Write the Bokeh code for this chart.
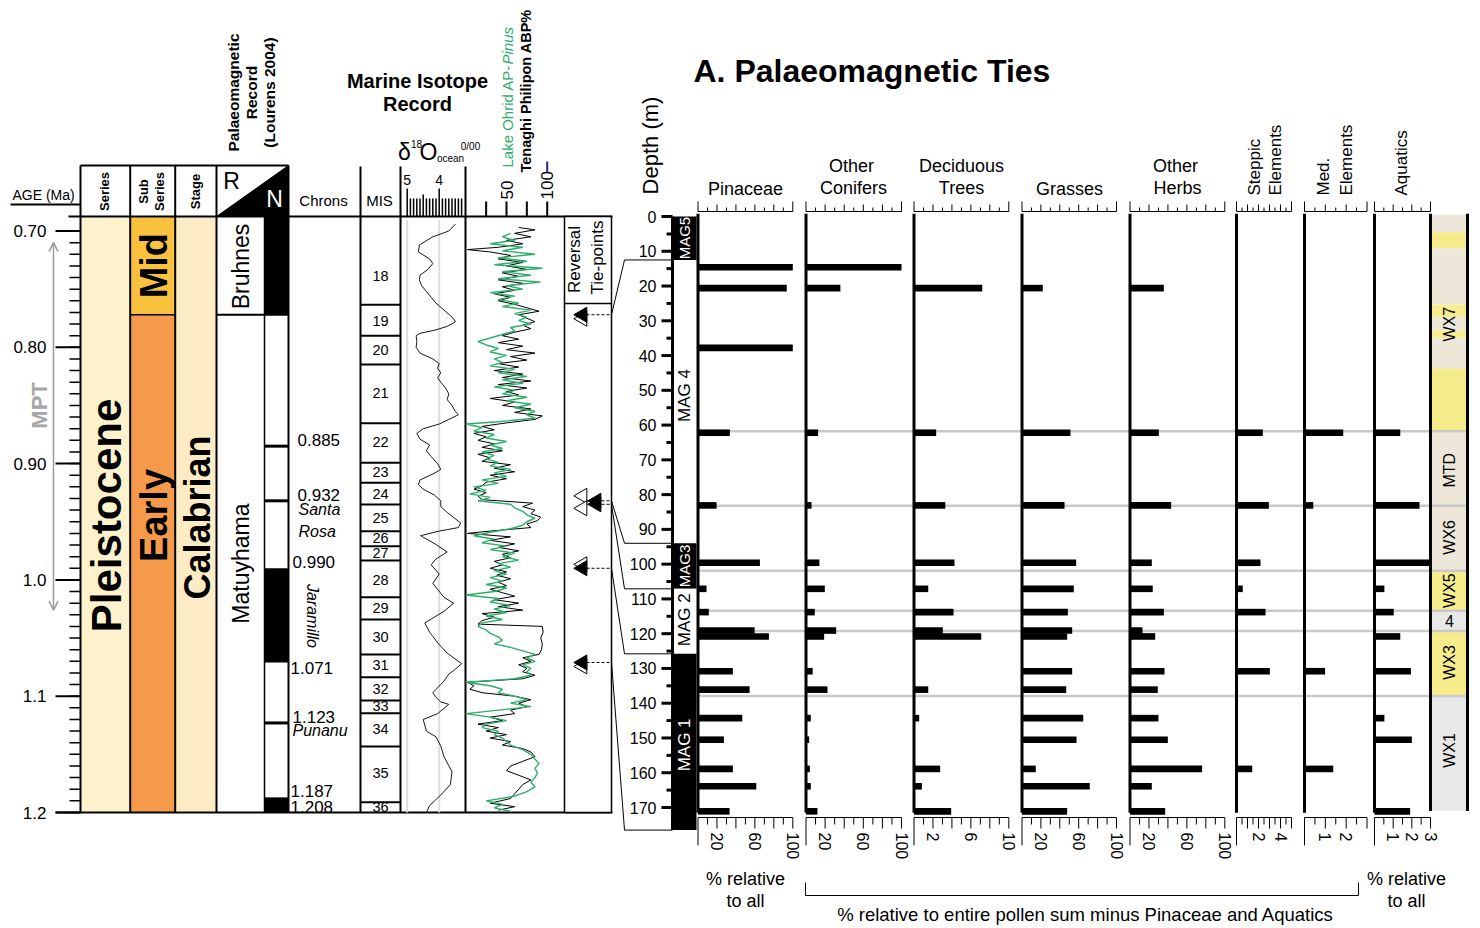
import math
from bokeh.plotting import figure
from bokeh.models import Range1d, Arrow, OpenHead
from bokeh.core.properties import value
from bokeh.embed import file_html
from bokeh.resources import INLINE

W, H = 1480, 928
FONT = "Liberation Sans"

# ------------------------------------------------------------------ DATA
# age axis (Ma)
age_major = [0.70, 0.80, 0.90, 1.0, 1.1, 1.2]
age_major_labels = ["0.70", "0.80", "0.90", "1.0", "1.1", "1.2"]
age_minor = [round(0.70 + 0.01 * i, 2) for i in range(51)]
age_panel_top = 0.6875
age_panel_bottom = 1.2
mpt_top, mpt_bottom = 0.71, 1.026

series_name = "Pleistocene"
subseries_names = ["Mid", "Early"]
subseries_top = [0.6875, 0.772]
subseries_bottom = [0.772, 1.2]
stage_name = "Calabrian"

polarity_names = ["Bruhnes", "Matuyhama"]
polarity_top = [0.6875, 0.772]
polarity_bottom = [0.772, 1.2]
normal_top = [0.6875, 0.990, 1.187]
normal_bottom = [0.772, 1.071, 1.2]
subchron_lines = [0.885, 0.932, 1.123]

chron_labels = ["0.885", "0.932", "0.990", "1.071", "1.123", "1.187", "1.208"]
chron_label_ages = [0.885, 0.932, 0.990, 1.071, 1.123, 1.187, 1.2]
subchron_names = ["Santa", "Rosa", "Punanu"]
subchron_name_ages = [0.9395, 0.958, 1.1295]
jaramillo_age = 1.031

mis_labels = [str(n) for n in range(18, 37)]
mis_bounds = [0.6875, 0.7635, 0.790, 0.8148, 0.8653, 0.8993, 0.9165, 0.9352, 0.9581,
              0.971, 0.9833, 1.0149, 1.034, 1.0641, 1.0837, 1.1037, 1.1146, 1.1432,
              1.1911, 1.2]
mis_label_ages = [0.7383, 0.777, 0.8027, 0.8397, 0.8818, 0.9076, 0.9265, 0.9472, 0.9644,
                  0.9773, 1.0005, 1.0245, 1.0494, 1.0736, 1.0934, 1.1088, 1.1286, 1.1664,
                  1.1957]

# benthic d18O stack (per mil)
iso_age = [0.694, 0.700, 0.705, 0.712, 0.718, 0.724, 0.728, 0.733, 0.738, 0.742, 0.747,
           0.752, 0.757, 0.762, 0.768, 0.774, 0.778, 0.782, 0.785, 0.788, 0.790, 0.795,
           0.800, 0.805, 0.810, 0.814, 0.818, 0.822, 0.826, 0.830, 0.835, 0.840, 0.845,
           0.850, 0.855, 0.858, 0.862, 0.866, 0.870, 0.874, 0.879, 0.884, 0.889, 0.894,
           0.900, 0.905, 0.909, 0.914, 0.918, 0.922, 0.927, 0.932, 0.937, 0.942, 0.951,
           0.955, 0.958, 0.962, 0.969, 0.976, 0.982, 0.987, 0.995, 1.003, 1.015, 1.020,
           1.027, 1.037, 1.045, 1.055, 1.063, 1.072, 1.078, 1.081, 1.087, 1.097, 1.101,
           1.105, 1.107, 1.115, 1.120, 1.130, 1.135, 1.143, 1.152, 1.165, 1.176, 1.185,
           1.194, 1.200]
iso_d18o = [3.49, 3.70, 4.20, 4.62, 4.65, 4.30, 4.20, 4.35, 4.60, 4.62, 4.55,
            4.40, 4.25, 4.10, 3.85, 3.60, 3.49, 3.75, 4.10, 4.60, 4.72, 4.70,
            4.72, 4.60, 4.20, 4.00, 4.05, 3.95, 4.05, 3.95, 3.80, 3.70, 3.75,
            3.60, 3.50, 3.40, 3.70, 4.00, 4.50, 4.70, 4.60, 4.30, 4.40, 4.25,
            4.05, 3.95, 4.20, 4.60, 4.65, 4.50, 4.15, 3.95, 3.95, 3.75, 3.33,
            3.40, 4.00, 4.58, 4.13, 3.75, 4.10, 4.25, 4.00, 4.20, 3.85, 3.55,
            3.85, 4.45, 4.30, 4.02, 3.75, 3.30, 3.55, 3.70, 3.85, 4.20, 4.10,
            3.95, 3.70, 4.05, 4.50, 4.40, 4.10, 3.95, 3.85, 3.60, 3.65, 3.95,
            4.30, 4.40]

# Tenaghi Philippon ABP %
tp_age = [0.697, 0.699, 0.702, 0.705, 0.708, 0.711, 0.714, 0.716, 0.718, 0.721, 0.724,
          0.727, 0.730, 0.733, 0.736, 0.739, 0.742, 0.745, 0.748, 0.751, 0.754, 0.757,
          0.760, 0.763, 0.766, 0.769, 0.772, 0.775, 0.778, 0.781, 0.784, 0.787, 0.790,
          0.793, 0.796, 0.799, 0.802, 0.805, 0.808, 0.811, 0.814, 0.817, 0.820, 0.823,
          0.826, 0.829, 0.832, 0.835, 0.838, 0.841, 0.844, 0.847, 0.850, 0.853, 0.856,
          0.859, 0.862, 0.865, 0.868, 0.871, 0.874, 0.877, 0.880, 0.883, 0.886, 0.889,
          0.892, 0.895, 0.898, 0.901, 0.904, 0.907, 0.910, 0.913, 0.916, 0.919, 0.922,
          0.925, 0.928, 0.931, 0.934, 0.937, 0.940, 0.943, 0.946, 0.949, 0.952, 0.955,
          0.958, 0.960, 0.963, 0.966, 0.969, 0.972, 0.975, 0.978, 0.981, 0.984, 0.987,
          0.990, 0.993, 0.996, 0.999, 1.002, 1.005, 1.008, 1.011, 1.014, 1.017, 1.020,
          1.023, 1.026, 1.029, 1.032, 1.035, 1.038, 1.040, 1.045, 1.050, 1.055, 1.060,
          1.064, 1.067, 1.070, 1.073, 1.076, 1.079, 1.082, 1.085, 1.088, 1.091, 1.094,
          1.097, 1.100, 1.103, 1.106, 1.109, 1.112, 1.115, 1.118, 1.121, 1.124, 1.127,
          1.130, 1.133, 1.136, 1.139, 1.142, 1.145, 1.148, 1.152, 1.156, 1.160, 1.164,
          1.168, 1.172, 1.176, 1.180, 1.184, 1.188, 1.192, 1.195, 1.198]
tp_abp = [65, 85, 60, 80, 50, 70, 40, 2, 30, 55, 40,
          70, 50, 75, 45, 65, 40, 70, 45, 60, 35, 55,
          40, 60, 75, 90, 65, 75, 85, 70, 80, 60, 45,
          65, 40, 70, 50, 85, 55, 75, 40, 65, 35, 70,
          45, 80, 40, 75, 50, 65, 30, 60, 45, 80, 60,
          94, 85, 50, 20, 35, 10, 25, 15, 35, 20, 45,
          15, 30, 20, 55, 35, 60, 30, 50, 25, 20, 10,
          25, 15, 20, 82, 70, 85, 80, 92, 88, 75, 80,
          30, 2, 55, 30, 60, 40, 65, 45, 55, 35, 45,
          30, 50, 38, 55, 40, 50, 30, 45, 60, 35, 65,
          40, 70, 20, 35, 20, 15, 94, 95, 92, 94, 93,
          90, 70, 80, 65, 75, 70, 85, 70, 2, 10, 5,
          20, 60, 80, 65, 75, 55, 60, 30, 45, 15, 40,
          25, 50, 30, 55, 45, 70, 80, 85, 70, 55, 50,
          65, 80, 70, 65, 60, 55, 30, 60, 40]

# Lake Ohrid AP-Pinus %
oh_age = [0.702, 0.705, 0.708, 0.711, 0.714, 0.717, 0.720, 0.723, 0.726, 0.729, 0.732,
          0.735, 0.738, 0.741, 0.744, 0.747, 0.750, 0.753, 0.756, 0.759, 0.762, 0.765,
          0.768, 0.771, 0.774, 0.777, 0.780, 0.783, 0.786, 0.789, 0.792, 0.795, 0.798,
          0.801, 0.804, 0.807, 0.810, 0.813, 0.816, 0.819, 0.822, 0.825, 0.828, 0.831,
          0.834, 0.837, 0.840, 0.843, 0.846, 0.849, 0.852, 0.855, 0.858, 0.861, 0.864,
          0.866, 0.869, 0.872, 0.875, 0.878, 0.881, 0.884, 0.887, 0.890, 0.893, 0.896,
          0.899, 0.902, 0.905, 0.908, 0.911, 0.914, 0.917, 0.920, 0.923, 0.926, 0.929,
          0.932, 0.935, 0.938, 0.941, 0.944, 0.947, 0.950, 0.953, 0.956, 0.959, 0.962,
          0.965, 0.968, 0.971, 0.974, 0.977, 0.980, 0.983, 0.986, 0.989, 0.992, 0.995,
          0.998, 1.001, 1.004, 1.007, 1.010, 1.013, 1.016, 1.019, 1.022, 1.025, 1.028,
          1.031, 1.034, 1.037, 1.040, 1.043, 1.046, 1.049, 1.052, 1.055, 1.058, 1.061,
          1.064, 1.067, 1.070, 1.073, 1.076, 1.079, 1.082, 1.085, 1.088, 1.091, 1.094,
          1.097, 1.100, 1.103, 1.106, 1.109, 1.112, 1.115, 1.118, 1.121, 1.124, 1.127,
          1.130, 1.133, 1.136, 1.139, 1.142, 1.146, 1.150, 1.154, 1.158, 1.162, 1.166,
          1.170, 1.174, 1.178, 1.182, 1.186, 1.190, 1.193, 1.196, 1.199]
oh_ap = [55, 45, 60, 30, 70, 45, 85, 40, 75, 35, 94,
         45, 80, 40, 92, 50, 70, 30, 60, 40, 65, 45,
         80, 60, 75, 65, 80, 55, 60, 45, 30, 15, 25,
         40, 30, 50, 35, 45, 30, 60, 40, 75, 45, 70,
         35, 60, 45, 75, 50, 80, 60, 85, 75, 85, 40,
         0, 20, 10, 35, 25, 50, 30, 45, 20, 35, 25,
         40, 30, 55, 35, 50, 20, 40, 10, 25, 5, 30,
         15, 55, 60, 70, 75, 85, 75, 70, 55, 30, 10,
         35, 20, 50, 30, 60, 45, 65, 40, 55, 35, 50,
         30, 45, 25, 50, 35, 0, 40, 30, 55, 35, 50,
         25, 45, 20, 15, 25, 30, 40, 45, 35, 55, 70,
         85, 75, 85, 70, 80, 75, 80, 60, 0, 30, 45,
         40, 60, 75, 55, 80, 40, 0, 30, 50, 25, 20,
         40, 35, 45, 50, 55, 70, 80, 85, 90, 85, 88,
         85, 80, 85, 75, 60, 25, 45, 35, 55]

# palaeomagnetic tie points (age Ma -> core depth m)
tie_age = [0.772, 0.932, 0.935, 0.990, 1.071]
tie_depth = [12.5, 94.0, 107.1, 125.8, 176.5]

# core magnetostratigraphy (m)
mag_names = ["MAG5", "MAG 4", "MAG3", "MAG 2", "MAG 1"]
mag_top = [0.0, 12.5, 94.0, 107.1, 125.8]
mag_bottom = [12.5, 94.0, 107.1, 125.8, 176.5]
mag_normal = [True, False, True, False, True]
mag_label_depth = [6.2, 51.5, 100.5, 116.0, 152.0]

depth_major = list(range(0, 171, 10))
depth_minor = list(range(5, 171, 10))

# pollen samples (m) and percentages
sample_depth = [14.6, 20.6, 37.8, 62.2, 83.1, 99.6, 107.1, 113.8, 119.1, 120.8,
                130.8, 136.1, 144.3, 150.5, 158.9, 163.9, 171.1]
pinaceae = [100, 93.6, 100, 33.6, 19.6, 65.3, 9.0, 11.4, 59.7, 74.8,
            36.8, 54.4, 46.7, 27.3, 36.8, 61.5, 33.3]
other_conifers = [100, 36, 0, 12.7, 5.8, 14, 19.7, 9.2, 31.6, 19,
                  7, 22.5, 5, 3.3, 4, 5, 12]
deciduous_trees = [0, 7.2, 0, 2.34, 3.3, 4.27, 1.5, 4.17, 3.04, 7.09,
                   0, 1.5, 0.55, 0, 2.76, 0.83, 3.92]
grasses = [0, 22, 0, 51.3, 45, 57.3, 54.8, 48.5, 53.1, 47.8,
           53.1, 46.8, 64.8, 57.7, 14.6, 71.7, 47.8]
other_herbs = [0, 35.7, 0, 30.4, 43.4, 23, 24, 35.7, 13.2, 26.6,
               36.4, 29.3, 30, 39.9, 76.1, 23, 37.1]
steppic = [0, 0, 0, 2.39, 2.94, 2.18, 0.57, 2.64, 0, 0,
           3.03, 0, 0, 0, 1.43, 0, 0]
med_elements = [0, 0, 0, 1.86, 0.42, 0, 0, 0, 0, 0,
                0.99, 0, 0, 0, 1.38, 0, 0]
aquatics = [0, 0, 0, 1.38, 2.41, 2.98, 0.53, 1.03, 0, 1.38,
            1.95, 0, 0.53, 2.0, 0, 0, 1.91]

pct_ticks = [0, 10, 20, 30, 40, 50, 60, 70, 80, 90, 100]
dec_ticks = [0, 1, 2, 3, 4, 5, 6, 7, 8, 9, 10]
step_ticks = [0, 0.5, 1, 1.5, 2, 2.5, 3, 3.5, 4, 4.5, 5]
med_ticks = [0, 0.5, 1, 1.5, 2, 2.5, 3]
aq_ticks = [0, 0.5, 1, 1.5, 2, 2.5, 3]
pct_labels = [20, 60, 100]
dec_labels = [2, 6, 10]
step_labels = [2, 4]
med_labels = [1, 2]
aq_labels = [1, 2, 3]

# pollen zones (m)
zone_top = [-0.6, 4.5, 9.1, 25.3, 29.0, 32.8, 34.9, 43.8, 61.8, 101.9, 113.4, 119.2, 137.9]
zone_bottom = [4.5, 9.1, 25.3, 29.0, 32.8, 34.9, 43.8, 61.8, 101.9, 113.4, 119.2, 137.9, 170.9]
zone_kind = ["b", "y", "b", "y", "b", "y", "b", "y", "b", "y", "g", "y", "g"]
zone_boundaries = [61.8, 83.2, 101.9, 113.4, 119.2, 137.9]
zone_labels = ["WX7", "MTD", "WX6", "WX5", "WX3", "WX1"]
zone_label_depth = [31.0, 73.0, 92.3, 107.6, 128.3, 153.6]
zone4_label, zone4_depth = "4", 116.3

# ------------------------------------------------------------------ FIGURE
p = figure(width=W, height=H, x_range=Range1d(0, W), y_range=Range1d(H, 0),
           output_backend="svg", toolbar_location=None, min_border=0,
           x_axis_type=None, y_axis_type=None)
p.title.visible = False
p.outline_line_color = None
p.background_fill_color = "white"
p.border_fill_color = "white"


def xr(v0, p0, v1, p1):
    k = (v1 - v0) / (p1 - p0)
    return Range1d(start=v0 - p0 * k, end=v0 + (W - p0) * k)


def yr(v0, p0, v1, p1):
    k = (v1 - v0) / (p1 - p0)
    return Range1d(start=v0 + (H - p0) * k, end=v0 - p0 * k)


AGE_A = (0.70, 230.5, 1.2, 812.0)
DEP_A = (0.0, 216.0, 170.0, 807.0)
AGE_PER_PX = (AGE_A[2] - AGE_A[0]) / (AGE_A[3] - AGE_A[1])
p.extra_y_ranges = {"age": yr(*AGE_A), "dep": yr(*DEP_A)}
p.extra_x_ranges = {
    "iso": xr(5.0, 406.7, 4.0, 438.7),
    "pol": xr(0, 465.3, 100, 546.7),
    "pin": xr(0, 697.5, 100, 792.3),
    "oc": xr(0, 805.5, 100, 901.0),
    "dec": xr(0, 913.5, 10, 1008.3),
    "gra": xr(0, 1021.5, 100, 1116.0),
    "herb": xr(0, 1129.5, 100, 1224.3),
    "step": xr(0, 1236.0, 5, 1291.0),
    "med": xr(0, 1304.0, 3, 1366.5),
    "aq": xr(0, 1374.0, 3, 1430.0),
}


def age_px(a):
    return AGE_A[1] + (a - AGE_A[0]) / AGE_PER_PX


def dep_px(d):
    return DEP_A[1] + (d - DEP_A[0]) * (DEP_A[3] - DEP_A[1]) / (DEP_A[2] - DEP_A[0])


def L(v):
    return v if isinstance(v, list) else [v]


def T(x, y, s, size, angle=0.0, align="center", baseline="middle", style="normal",
      color="black", xn="default", yn="default"):
    xs, ys, ss = L(x), L(y), L(s)
    n = max(len(xs), len(ys), len(ss))
    if len(xs) == 1:
        xs = xs * n
    if len(ys) == 1:
        ys = ys * n
    p.text(x=xs, y=ys, text=ss, angle=angle, text_align=align, text_baseline=baseline,
           text_font=value(FONT), text_font_size=f"{size}px", text_font_style=style,
           text_color=color, x_range_name=xn, y_range_name=yn)


def S(x0, y0, x1, y1, w=1.0, color="black", xn="default", yn="default", dash="solid"):
    x0, y0, x1, y1 = L(x0), L(y0), L(x1), L(y1)
    n = max(len(x0), len(y0), len(x1), len(y1))
    x0, y0, x1, y1 = [(v * n if len(v) == 1 else v) for v in (x0, y0, x1, y1)]
    p.segment(x0=x0, y0=y0, x1=x1, y1=y1, line_width=w, line_color=color,
              line_dash=dash, x_range_name=xn, y_range_name=yn)


# ------------------------------------------------------------------ LEFT PANEL
p.quad(left=[80], right=[129.7], top=[age_panel_top], bottom=[age_panel_bottom],
       fill_color="#FEF2CC", line_color=None, y_range_name="age")
p.quad(left=[129.7] * 2, right=[174.7] * 2, top=subseries_top, bottom=subseries_bottom,
       fill_color=["#F9C23E", "#F59A4B"], line_color=None, y_range_name="age")
p.quad(left=[174.7], right=[216], top=[age_panel_top], bottom=[age_panel_bottom],
       fill_color="#FDEBC6", line_color=None, y_range_name="age")
p.quad(left=[264] * 3, right=[288] * 3, top=normal_top, bottom=normal_bottom,
       fill_color="black", line_color=None, y_range_name="age")
S(264, subchron_lines, 288, subchron_lines, w=3, yn="age")
S(216, subseries_bottom[0], 288, subseries_bottom[0], w=2, yn="age")
S(129.7, subseries_bottom[0], 174.7, subseries_bottom[0], w=1.5, yn="age")

p.patch(x=[216, 288, 288], y=[216, 165, 216], fill_color="black", line_color="black")
S([80, 129.7, 174.7, 216, 288], 165, [80, 129.7, 174.7, 216, 288], 812, w=2)
S(264, 216, 264, 812, w=1.5)
S(80, 165, 288, 165, w=2)
S(68, 216, 612, 216, w=2)
S(55, 812, 612, 812, w=2)
S([360, 400, 465], 166, [360, 400, 465], 812, w=2)

S(55, age_major, 80, age_major, w=2, yn="age")
S(69, age_minor, 80, age_minor, w=1.5, yn="age")
T(46, age_major, age_major_labels, 17, align="right", yn="age")
S(10, 204, 80, 204, w=2)
T(12, 194, "AGE (Ma)", 14, align="left")

p.add_layout(Arrow(x_start=53, y_start=mpt_bottom, x_end=53, y_end=mpt_top,
                   y_range_name="age", line_color="#9A9A9A", line_width=1.5,
                   start=OpenHead(size=9, line_color="#9A9A9A", line_width=1.5),
                   end=OpenHead(size=9, line_color="#9A9A9A", line_width=1.5)))
T(39, (mpt_top + mpt_bottom) / 2 - 0.018, "MPT", 22, angle=math.pi / 2, style="bold",
  color="#A6A6A6", yn="age")

T(104, 191, "Series", 13, angle=math.pi / 2, style="bold")
T(143, 191, "Sub", 13, angle=math.pi / 2, style="bold")
T(159, 191, "Series", 13, angle=math.pi / 2, style="bold")
T(195, 191, "Stage", 13, angle=math.pi / 2, style="bold")
T(231, 180, "R", 23)
T(274, 198, "N", 23, color="white")
T(233, 92, "Palaeomagnetic", 15.5, angle=math.pi / 2, style="bold")
T(251, 92, "Record", 15.5, angle=math.pi / 2, style="bold")
T(269, 92, "(Lourens 2004)", 15.5, angle=math.pi / 2, style="bold")
T(323, 200, "Chrons", 15)
T(379, 200, "MIS", 15)

# column titles (label positions)
T(106, 0.9446, series_name, 42, angle=math.pi / 2, style="bold", yn="age")
T(153, [0.7298, 0.9446], subseries_names, 38, angle=math.pi / 2, style="bold", yn="age")
T(197, 0.9463, stage_name, 36, angle=math.pi / 2, style="bold", yn="age")
T(240, [0.7305, 0.986], polarity_names, 23, angle=math.pi / 2, yn="age")

T([297, 297, 292], chron_label_ages[0:3], chron_labels[0:3], 17, align="left",
  baseline="bottom", yn="age")
T(290, chron_label_ages[3], chron_labels[3], 17, align="left", baseline="top", yn="age")
T([292, 290], [chron_label_ages[4], chron_label_ages[5]], [chron_labels[4], chron_labels[5]],
  17, align="left", baseline="bottom", yn="age")
T(290, chron_label_ages[6] - 6 * AGE_PER_PX, chron_labels[6], 17, align="left",
  baseline="middle", yn="age")
T([298, 298, 292], subchron_name_ages, subchron_names, 16, align="left", style="italic",
  yn="age")
T(312, jaramillo_age, "Jaramillo", 16, angle=-math.pi / 2, style="italic", yn="age")

S(360, mis_bounds[1:-1], 400, mis_bounds[1:-1], w=2, yn="age")
T(380, mis_label_ages, mis_labels, 14.5, yn="age")

T(417, 80, "Marine Isotope", 20, style="bold")
T(417, 103, "Record", 20, style="bold")
T(404, 151, "δ", 23)
T(416, 143, "18", 10)
T(428, 151, "O", 23)
T(450, 158, "ocean", 10)
T(470, 146, "0/00", 10)
iso_ruler = [round(5.0 - 0.1 * i, 1) for i in range(18)]
iso_tops = [188 if v in (5.0, 4.0) else (194 if v == 4.5 else 198) for v in iso_ruler]
S(iso_ruler, 216, iso_ruler, iso_tops, w=1.5, xn="iso")
T([5.0, 4.0], 179, ["5", "4"], 14, xn="iso")
S([5.0, 4.0], age_panel_top + 0.003, [5.0, 4.0], age_panel_bottom, w=2, color="#DCDCDC",
  xn="iso", yn="age")
p.line(x=iso_d18o, y=iso_age, line_color="black", line_width=0.9, x_range_name="iso",
       y_range_name="age")

pol_ruler = [25, 50, 75, 100]
S(pol_ruler, 216, pol_ruler, 201, w=2, xn="pol")
T([50, 100], 199, ["50", "100"], 17, angle=math.pi / 2, align="left", xn="pol")
S(100, 161, 100, 172, w=2, color="#2B2A78", xn="pol")
T(507, 167, "Lake Ohrid AP-", 15, angle=math.pi / 2, align="left", color="#2EAD6B")
T(507, 64, "Pinus", 15, angle=math.pi / 2, align="left", style="italic", color="#2EAD6B")
T(525, 172, "Tenaghi Philipon ABP%", 14.5, angle=math.pi / 2, align="left", style="bold")
p.line(x=tp_abp, y=tp_age, line_color="black", line_width=1.0, x_range_name="pol",
       y_range_name="age")
p.line(x=oh_ap, y=oh_age, line_color="#2EAD6B", line_width=1.4, x_range_name="pol",
       y_range_name="age")

# tie-point box
p.quad(left=[564], right=[611], top=[216], bottom=[812], fill_color="white",
       line_color="black", line_width=1.5)
S(564, 303, 611, 303, w=1.5)
T(574, 259, "Reversal", 17, angle=math.pi / 2)
T(597, 257, "Tie-points", 17, angle=math.pi / 2)
S(586, tie_age, 611, tie_age, w=1, dash="3 2", yn="age")
open_shift_px = [4, -5, 4, -4, 4]
filled_x = [582, 596, 596, 582, 582]
p.scatter(x=[582] * 5, y=[a + s * AGE_PER_PX for a, s in zip(tie_age, open_shift_px)],
          marker="triangle", size=15, angle=math.pi / 2, fill_color="white",
          line_color="black", line_width=1, y_range_name="age")
p.scatter(x=filled_x, y=tie_age, marker="triangle", size=15,
          angle=math.pi / 2, fill_color="black", line_color="black", y_range_name="age")
p.multi_line(xs=[[611, 624, 672] for _ in tie_age],
             ys=[[age_px(a), dep_px(d), dep_px(d)] for a, d in zip(tie_age, tie_depth)],
             line_color="black", line_width=1)

# ------------------------------------------------------------------ RIGHT PANEL
T(693, 70, "A. Palaeomagnetic Ties", 32, align="left", style="bold")
T(650, 145, "Depth (m)", 22, angle=math.pi / 2)

zcol = {"b": "#EDE7D9", "y": "#F7EC8C", "g": "#E8E8E8"}
p.quad(left=[1430] * len(zone_top), right=[1467] * len(zone_top), top=zone_top,
       bottom=zone_bottom, fill_color=[zcol[k] for k in zone_kind], line_color=None,
       y_range_name="dep")
S(697, zone_boundaries, 1467, zone_boundaries, w=2.5, color="#C9C9C9", yn="dep")
S([1430, 1467], -0.8, [1430, 1467], 171.0, w=3, yn="dep")
T(1449, zone_label_depth, zone_labels, 16, angle=math.pi / 2, yn="dep")
T(1449, zone4_depth, zone4_label, 16, yn="dep")

p.quad(left=[672] * 5, right=[696] * 5, top=mag_top, bottom=mag_bottom,
       fill_color=["black" if m else "white" for m in mag_normal], line_color=None,
       y_range_name="dep")
mag_sizes = [15, 17, 15, 17, 17]
for nm, dd, nrm, sz in zip(mag_names, mag_label_depth, mag_normal, mag_sizes):
    T(684, dd, nm, sz, angle=math.pi / 2, color="white" if nrm else "black", yn="dep")

S(672, 0, 672, mag_bottom[-1], w=3, yn="dep")
S(661, depth_major, 672, depth_major, w=3, yn="dep")
S(666, depth_minor, 672, depth_minor, w=3, yn="dep")
T(656, depth_major, [str(d) for d in depth_major], 16, align="right", yn="dep")

cols = [
    ("pin", pinaceae, pct_ticks, pct_labels),
    ("oc", other_conifers, pct_ticks, pct_labels),
    ("dec", deciduous_trees, dec_ticks, dec_labels),
    ("gra", grasses, pct_ticks, pct_labels),
    ("herb", other_herbs, pct_ticks, pct_labels),
    ("step", steppic, step_ticks, step_labels),
    ("med", med_elements, med_ticks, med_labels),
    ("aq", aquatics, aq_ticks, aq_labels),
]
for rn, vals, ticks, labs in cols:
    p.hbar(y=sample_depth, left=0, right=vals, height=1.9, fill_color="black",
           line_color=None, x_range_name=rn, y_range_name="dep")
    S(0, -0.8, 0, 171.5, w=3, xn=rn, yn="dep")
    n = len(ticks)
    S(ticks[0], 211, ticks[-1], 211, w=1, xn=rn)
    tops = [201 if (i == 0 or i == n - 1) else (204 if i % 2 == 0 else 207) for i in range(n)]
    S(ticks, 211, ticks, tops, w=1, xn=rn)
    S(ticks[0], 817, ticks[-1], 817, w=1, xn=rn)
    bots = [845 if i == 0 else (828 if i % 2 == 0 else 824) for i in range(n)]
    S(ticks, 817, ticks, bots, w=1, xn=rn)
    T(labs, 832, [str(v) for v in labs], 16, angle=-math.pi / 2, align="left", xn=rn)

T(745, 188, "Pinaceae", 18)
T(851, 165, "Other", 18)
T(853, 187, "Conifers", 18)
T(961, 165, "Deciduous", 18)
T(961, 187, "Trees", 18)
T(1069, 188, "Grasses", 18)
T(1175, 165, "Other", 18)
T(1177, 187, "Herbs", 18)
T(1254, 195, "Steppic", 17, angle=math.pi / 2, align="left")
T(1275, 195, "Elements", 17, angle=math.pi / 2, align="left")
T(1323, 195, "Med.", 17, angle=math.pi / 2, align="left")
T(1346, 195, "Elements", 17, angle=math.pi / 2, align="left")
T(1401, 195, "Aquatics", 17, angle=math.pi / 2, align="left")

T(745, 878, "% relative", 18)
T(745, 900, "to all", 18)
T(1406, 878, "% relative", 18)
T(1406, 900, "to all", 18)
p.line(x=[805, 805, 1358, 1358], y=[882, 895, 895, 882], line_color="black", line_width=1)
T(1085, 914, "% relative to entire pollen sum minus Pinaceae and Aquatics", 18.5)

open("out.html", "w").write(file_html(p, INLINE))
